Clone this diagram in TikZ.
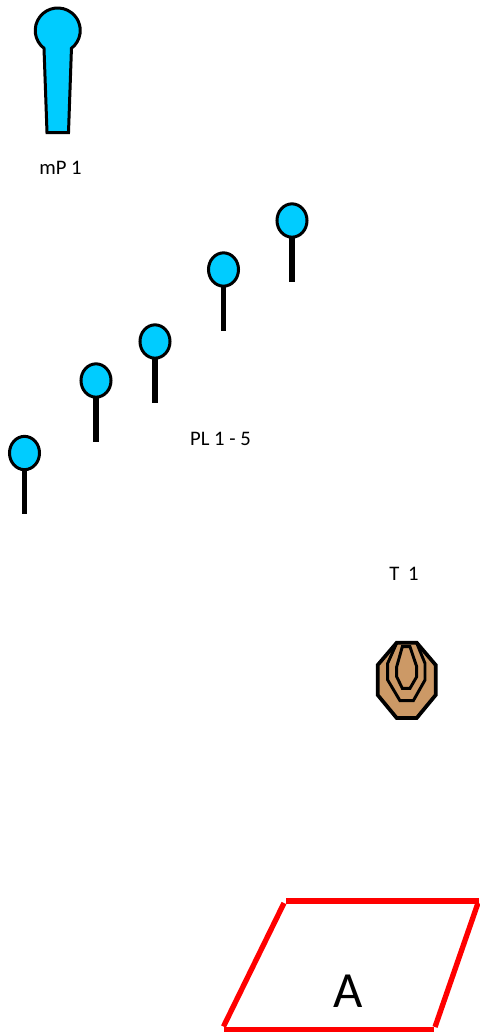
\documentclass[tikz,border=0pt]{standalone}
\usepackage{fontspec}
\setmainfont{Carlito}
\definecolor{pinblue}{RGB}{0,204,255}
\definecolor{targettan}{RGB}{204,153,102}
\usetikzlibrary{shapes.geometric}
\tikzset{
  pinhead/.style={ellipse,draw=black,fill=pinblue,line width=2.25pt,minimum width=22.5pt,minimum height=25pt,inner sep=0pt},
  pinstem/.style={draw=black,line width=4.2pt},
  lbl/.style={inner sep=0pt,text=black,font=\fontsize{15.5}{17}\selectfont},
  zoneline/.style={draw=red,line width=4pt},
  tline/.style={draw=black,line width=2.2pt,line join=miter}
}
\begin{document}
\begin{tikzpicture}[x=0.75pt,y=-0.75pt]
\useasboundingbox (0,0) rectangle (479,1033);
% mP 1
\draw[draw=black,fill=pinblue,line width=2.25pt,line join=miter]
  (44,48.3) arc[start angle=127.6,end angle=412.4,radius=22.5] -- (68.5,132.5) -- (47,132.5) -- cycle;
\node[lbl] (mp) at (60.5,168) {mP 1};
% pins
\foreach \n/\x/\y/\e in {a/24.5/453/514,b/96/380.5/441.5,c/155/341.5/402.5,d/223.5/269.5/331,e/292/220.5/282}{
  \coordinate (\n end) at (\x,\e);
  \draw[pinstem] (\x,\y) -- (\n end);
  \node[pinhead] (\n) at (\x,\y) {};
}
\node[lbl] (pl) at (220.5,438.5) {PL 1 - 5};
% target
\node[lbl] (t) at (404,574) {T\hspace{3pt} 1};
\filldraw[tline,line width=2.8pt,fill=targettan] (396.7,642.7) -- (416.7,642.7) -- (435.7,665) -- (435.7,695) -- (416.7,718) -- (396.7,718) -- (377.7,695) -- (377.7,665) -- cycle;
\draw[tline] (396.7,643) -- (387.7,663.3) -- (387.7,680) -- (400,700.7) -- (413.3,700.7) -- (425,680) -- (425,663.3) -- (416.7,643);
\draw[tline] (402.3,646.7) -- (410,646.7) -- (416.7,666.7) -- (416.7,676.7) -- (410,688.3) -- (402.3,688.3) -- (396.7,676.7) -- (396.7,666.7) -- cycle;
% zone
\coordinate (tl) at (286,901);
\coordinate (tr) at (479,901);
\coordinate (bl) at (224,1029.5);
\coordinate (br) at (434,1029.5);
\coordinate (lt) at (284,903);
\coordinate (lb) at (223.5,1026.5);
\coordinate (rb) at (435,1027);
\coordinate (rt) at (478,903);
\draw[zoneline] (tl) -- (tr);
\draw[zoneline] (lt) -- (lb);
\draw[zoneline] (bl) -- (br);
\draw[zoneline] (rb) -- (rt);
\node[inner sep=0pt,font=\fontsize{38}{40}\selectfont] (za) at (348,991) {A};
\end{tikzpicture}
\end{document}
